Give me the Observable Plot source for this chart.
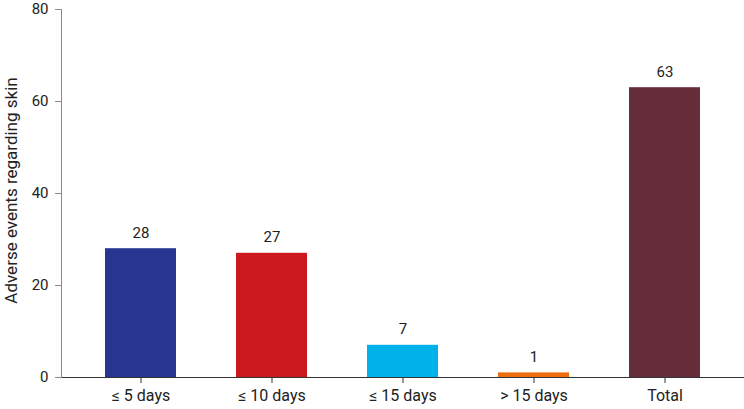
<!DOCTYPE html>
<html>
<head>
<meta charset="utf-8">
<script src="https://cdn.jsdelivr.net/npm/d3@7"></script>
<script src="https://cdn.jsdelivr.net/npm/@observablehq/plot@0.6"></script>
<style>
  html, body { margin: 0; padding: 0; background: white; }
</style>
</head>
<body>
<div id="chart"></div>
<script>
const categories = ["≤ 5 days", "≤ 10 days", "≤ 15 days", "> 15 days", "Total"];
const values = [28, 27, 7, 1, 63];
const colors = ["#283691", "#cc171d", "#00b2ea", "#ee6d0f", "#662d3a"];
const yTicks = [0, 20, 40, 60, 80];
const yLabel = "Adverse events regarding skin";

const data = categories.map((c, i) => ({cat: c, value: values[i]}));

const chart = Plot.plot({
  width: 744,
  height: 409,
  marginTop: 9,
  marginBottom: 32,
  marginLeft: 61,
  marginRight: 0,
  style: {fontFamily: "Roboto, 'Liberation Sans', sans-serif", color: "#222", background: "white", overflow: "visible"},
  x: {domain: categories, paddingInner: 0.46, paddingOuter: 0.33, label: null},
  y: {domain: [0, 80], label: null},
  color: {domain: categories, range: colors},
  marks: [
    Plot.barY(data, {x: "cat", y: "value", fill: "cat"}),
    Plot.text(data, {x: "cat", y: "value", text: d => String(d.value), dy: -16, fontSize: 15, fill: "#222"}),
    Plot.axisY({ticks: yTicks, tickSize: 6, tickPadding: 7, stroke: "#888", fill: "#222", fontSize: 15, label: null}),
    Plot.axisX({tickSize: 6, tickPadding: 6, stroke: "#333", fill: "#222", fontSize: 16, label: null}),
    Plot.ruleY([0], {stroke: "#333"}),
    Plot.frame({anchor: "left", stroke: "#888"}),
    Plot.text([yLabel], {frameAnchor: "left", textAnchor: "middle", lineAnchor: "middle", rotate: -90, dx: -50, dy: -3, fontSize: 17, fill: "#222", text: d => d})
  ]
});
document.getElementById("chart").appendChild(chart);
</script>
</body>
</html>
